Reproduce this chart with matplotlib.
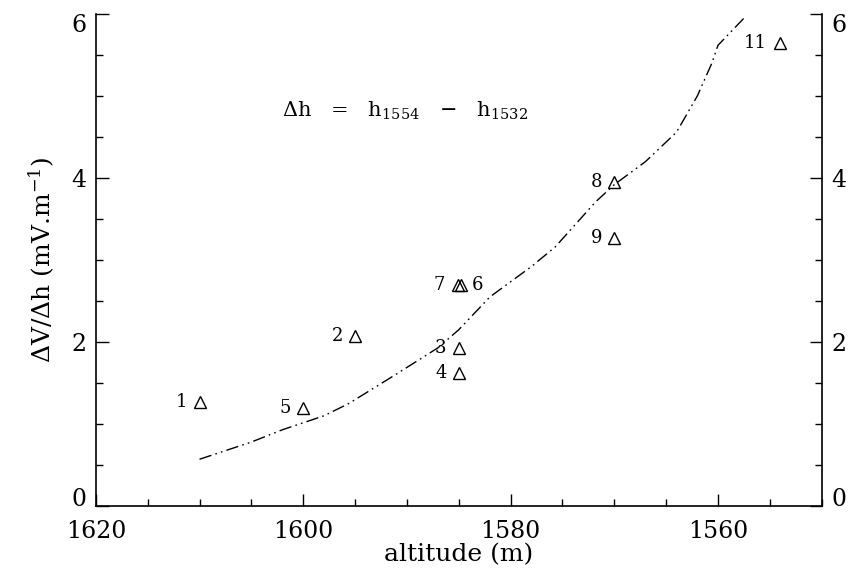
import matplotlib

matplotlib.use("Agg")
import matplotlib.pyplot as plt
from matplotlib.ticker import MultipleLocator

plt.rcParams["font.family"] = ["DejaVu Serif"]
plt.rcParams["mathtext.fontset"] = "dejavuserif"

# measured points (altitude, dV/dh) and their labels
pt_labels = ["1", "2", "3", "4", "5", "6", "7", "8", "9", "11"]
pt_alt = [1610, 1595, 1585, 1585, 1600, 1584.8, 1585.1, 1570, 1570, 1554]
pt_val = [1.27, 2.07, 1.93, 1.62, 1.20, 2.69, 2.70, 3.95, 3.27, 5.65]

# fitted curve (dash-dot-dot)
fit_alt = [1610, 1605, 1602, 1598, 1595.6, 1591, 1587, 1585, 1582, 1578,
           1575.7, 1571.8, 1570, 1567, 1564, 1562, 1560.6, 1560, 1557.5]
fit_val = [0.57, 0.78, 0.93, 1.10, 1.25, 1.61, 1.93, 2.15, 2.55, 2.92,
           3.16, 3.71, 3.92, 4.20, 4.56, 5.00, 5.40, 5.62, 5.95]

fig = plt.figure(figsize=(8.48, 5.78), dpi=100, facecolor="white")
ax = fig.add_axes([0.113, 0.1246, 0.856, 0.851])

ax.plot(fit_alt, fit_val, color="black", linewidth=1.0,
        linestyle=(0, (9, 3, 1.2, 3, 1.2, 3)))
ax.plot(pt_alt, pt_val, linestyle="none", marker="^", markersize=9,
        markerfacecolor="none", markeredgecolor="black", markeredgewidth=1.0)

for lab, a, v in zip(pt_labels, pt_alt, pt_val):
    if lab == "6":
        off = 12
    elif len(lab) == 1:
        off = -13
    else:
        off = -18
    ax.annotate(lab, (a, v), xytext=(off, 0), textcoords="offset points",
                ha="center", va="center", fontsize=13)

ax.text(1602, 4.82,
        r"$\Delta$h   =   h$_{1554}$   $-$   h$_{1532}$",
        ha="left", va="center", fontsize=15)

ax.set_xlim(1620, 1550)
ax.set_ylim(0, 6)
ax.xaxis.set_major_locator(MultipleLocator(20))
ax.xaxis.set_minor_locator(MultipleLocator(5))
ax.yaxis.set_major_locator(MultipleLocator(2))
ax.yaxis.set_minor_locator(MultipleLocator(0.5))
ax.tick_params(which="both", direction="in", left=True, right=True,
               labelright=True, top=False, width=1.0)
ax.tick_params(which="major", length=9, labelsize=17)
ax.tick_params(axis="x", which="major", pad=10)
ax.tick_params(axis="y", which="major", pad=7)
ax.tick_params(which="minor", length=5)
ax.spines["top"].set_visible(False)
for s in ["left", "right", "bottom"]:
    ax.spines[s].set_linewidth(1.2)

# end labels sit inside the axis span, as in the original
fig.canvas.draw()
for tick in ax.yaxis.get_major_ticks():
    txt = tick.label1.get_text()
    if txt == "0":
        tick.label1.set_va("baseline")
        tick.label2.set_va("baseline")
    elif txt == "6":
        tick.label1.set_va("top")
        tick.label2.set_va("top")

ax.set_xlabel("altitude (m)", fontsize=18, labelpad=0)
ax.set_ylabel(r"$\Delta$V/$\Delta$h (mV.m$^{-1}$)", fontsize=18, labelpad=10)

plt.savefig("out.png", dpi=100, facecolor="white")
plt.close()
